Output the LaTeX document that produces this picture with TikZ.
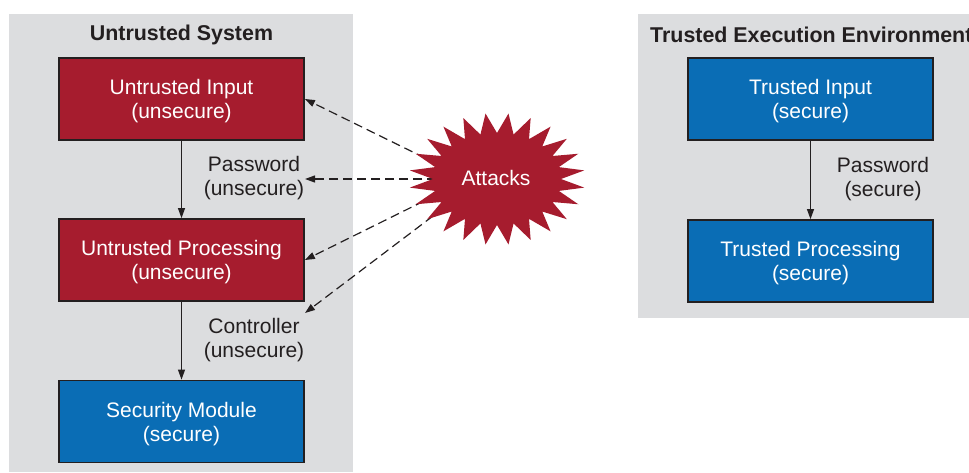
\documentclass[tikz,border=0pt]{standalone}
\usepackage{fontspec}
\setmainfont{Liberation Sans}
\usetikzlibrary{arrows.meta}
\definecolor{panelgray}{HTML}{DCDDDF}
\definecolor{ured}{HTML}{A61C2E}
\definecolor{tblue}{HTML}{0A6DB5}
\definecolor{ink}{HTML}{231F20}
\begin{document}
\begin{tikzpicture}[x=1pt,y=-1pt,
  txt/.style={font=\fontsize{21}{24}\selectfont},
  box/.style={txt, draw=ink, line width=1.8pt, minimum width=245pt, minimum height=82pt,
    text=white, align=center, inner sep=0pt, text depth=0pt},
  redbox/.style={box, fill=ured},
  bluebox/.style={box, fill=tblue},
  lbl/.style={txt, align=center, text=ink, inner sep=0pt, text depth=0pt},
  ttl/.style={font=\bfseries\fontsize{21.4}{24}\selectfont, text=ink, inner sep=0pt},
  flow/.style={-{Triangle[length=10pt,width=7pt]}, line width=1.1pt, draw=ink},
  atkline/.style={flow, line width=1.2pt, dash pattern=on 9pt off 5pt}]
\clip (0,0) rectangle (969,472);
\fill[panelgray] (9,14) rectangle (353,472);
\fill[panelgray] (638,14) rectangle (969,318);

\node[ttl] (t1) at (181.5,35) {Untrusted System};
\node[ttl, anchor=west] (t2) at (650,35) {Trusted Execution Environment};

\node[redbox] (uin) at (181.5,99) {Untrusted Input\\(unsecure)};
\node[redbox] (uproc) at (181.5,260) {Untrusted Processing\\(unsecure)};
\node[bluebox] (sec) at (181.5,421.5) {Security Module\\(secure)};
\node[bluebox] (tin) at (810.5,99) {Trusted Input\\(secure)};
\node[bluebox] (tproc) at (810.5,261) {Trusted Processing\\(secure)};

\node[lbl] (pw) at (254,176) {Password\\(unsecure)};
\node[lbl] (ctrl) at (254,338) {Controller\\(unsecure)};
\node[lbl] (tpw) at (883,177) {Password\\(secure)};

\draw[flow] (uin) -- (uproc);
\draw[flow] (uproc) -- (sec);
\draw[flow] (tin) -- (tproc);

\coordinate (s1) at (425,158);
\coordinate (s2) at (436,179);
\coordinate (s3) at (424,201);
\coordinate (s4) at (433,216);
\coordinate (e2) at (305,179);
\coordinate (e4) at (305,313);
\draw[atkline] (s1) -- (uin.east);
\draw[atkline] (s2) -- (e2);
\draw[atkline] (s3) -- (uproc.east);
\draw[atkline] (s4) -- (e4);

\fill[ured] (497+64,179) \foreach \k in {0,...,23} {
  -- ({497+88*cos(7.5+15*\k)},{179+66*sin(7.5+15*\k)})
  -- ({497+64*cos(15+15*\k)},{179+46*sin(15+15*\k)}) } -- cycle;
\node[txt, text=white, inner sep=0pt, text depth=0pt] (atk) at (496,178) {Attacks};
\end{tikzpicture}
\end{document}
